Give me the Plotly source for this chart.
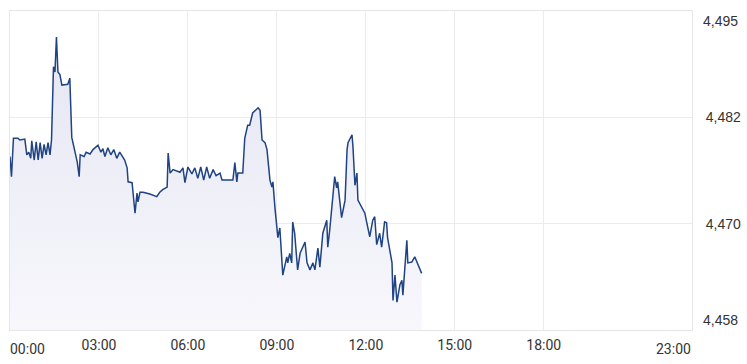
import plotly.graph_objects as go

times = ["00:00","00:03","00:07","00:16","00:20","00:30","00:34","00:38","00:42","00:44",
         "00:49","00:53","00:57","01:01","01:05","01:09","01:13","01:17","01:21","01:24",
         "01:28","01:31","01:34","01:37","01:41","01:45","01:57","02:01","02:05","02:09",
         "02:16","02:20","02:22","02:30","02:34","02:42","02:48","02:58","03:04","03:08",
         "03:12","03:18","03:24","03:30","03:36","03:42","03:52","03:57","03:59","04:07",
         "04:09","04:13","04:17","04:19","04:23","04:29","04:43","04:57","05:03","05:09",
         "05:18","05:20","05:24","05:30","05:44","05:50","05:54","06:00","06:08","06:14",
         "06:20","06:26","06:32","06:38","06:44","06:51","06:57","07:05","07:09","07:31",
         "07:35","07:39","07:41","07:51","07:55","08:01","08:05","08:11","08:22","08:26",
         "08:30","08:36","08:40","08:46","08:50","08:52","08:56","09:00","09:02","09:06",
         "09:10","09:12","09:20","09:22","09:26","09:30","09:32","09:36","09:42","09:47",
         "09:57","10:01","10:07","10:13","10:17","10:23","10:27","10:33","10:41","10:43",
         "10:47","10:53","10:57","11:01","11:03","11:11","11:18","11:22","11:24","11:32",
         "11:34","11:38","11:42","11:44","11:52","11:58","12:02","12:08","12:14","12:18",
         "12:22","12:28","12:32","12:38","12:42","12:44","12:53","12:55","12:59","13:03",
         "13:09","13:13","13:15","13:23","13:25","13:33","13:39","13:45","13:49","13:53"]

prices = [4477.9,4475.6,4480.0,4480.0,4479.8,4479.9,4478.1,4478.4,4477.7,4479.7,
          4477.5,4479.6,4477.5,4479.5,4477.7,4479.3,4478.1,4479.5,4478.1,4479.8,
          4488.2,4487.6,4491.6,4487.6,4487.3,4486.1,4486.2,4486.9,4480.1,4479.0,
          4477.3,4475.6,4478.1,4477.9,4478.4,4478.2,4478.7,4479.2,4478.4,4478.8,
          4477.9,4478.9,4478.1,4478.7,4477.7,4478.4,4477.5,4476.6,4475.0,4474.9,
          4473.8,4471.4,4473.7,4472.7,4473.8,4473.8,4473.6,4473.3,4473.8,4474.1,
          4474.4,4478.3,4476.0,4476.4,4476.1,4476.6,4474.9,4476.7,4475.9,4476.6,
          4475.4,4476.7,4475.2,4476.7,4475.4,4476.4,4475.7,4476.0,4475.2,4475.2,
          4477.2,4475.0,4476.0,4476.0,4480.0,4481.5,4481.5,4482.9,4483.5,4483.2,
          4479.8,4479.5,4478.7,4475.2,4474.4,4475.0,4472.1,4469.8,4468.6,4469.7,
          4466.4,4464.3,4466.4,4465.7,4466.8,4465.7,4470.4,4469.1,4464.9,4466.8,
          4468.1,4465.7,4464.9,4465.7,4464.9,4467.4,4465.2,4469.1,4470.6,4467.5,
          4469.5,4473.7,4475.6,4474.3,4475.0,4470.9,4472.9,4478.7,4479.5,4480.4,
          4479.0,4474.6,4476.0,4472.9,4472.1,4471.4,4470.3,4468.7,4470.6,4471.0,
          4467.8,4469.1,4467.5,4470.4,4470.3,4468.6,4465.7,4461.4,4464.3,4461.2,
          4463.2,4463.7,4462.0,4468.3,4465.7,4465.8,4466.4,4465.5,4464.9,4464.5]

x_tick_hours = [3, 6, 9, 12, 15, 18]
x_tick_labels = ["03:00", "06:00", "09:00", "12:00", "15:00", "18:00"]
x_start_label = "00:00"
x_end_label = "23:00"
y_min, y_max = 4458.0, 4494.6
y_tick_vals = [4458.0, 4470.2, 4482.4, 4494.6]
y_tick_labels = ["4,458", "4,470", "4,482", "4,495"]

day = "2024-01-01 "
xs = [day + t for t in times]
x0 = day + "00:00"
x1 = day + "23:00"
grid_x = [day + "%02d:00" % h for h in x_tick_hours]

fig = go.Figure()
fig.add_trace(go.Scatter(
    x=xs, y=prices, mode="lines",
    line=dict(color="#1f4383", width=1.5),
    fill="tozeroy",
    fillgradient=dict(type="vertical", start=y_min, stop=4492,
                      colorscale=[[0, "rgba(247,247,252,1)"], [1, "rgba(230,230,243,1)"]]),
    hoverinfo="skip",
))

fig.update_layout(
    width=747, height=364,
    margin=dict(l=10, r=55, t=11, b=34, autoexpand=False),
    paper_bgcolor="white", plot_bgcolor="white",
    showlegend=False,
    xaxis=dict(type="date", range=[x0, x1],
               tickvals=grid_x, ticktext=x_tick_labels,
               showgrid=True, gridcolor="#ececec", gridwidth=1,
               showline=True, linecolor="#e6e6e6", linewidth=1, mirror=True,
               ticks="", zeroline=False, ticklabelstandoff=2,
               tickfont=dict(family="Roboto", size=14, color="#333333")),
    yaxis=dict(range=[y_min, y_max], side="right",
               tickvals=y_tick_vals[1:3], ticktext=y_tick_labels[1:3],
               showgrid=True, gridcolor="#ececec", gridwidth=1,
               showline=True, linecolor="#e6e6e6", linewidth=1, mirror=True,
               ticks="", zeroline=False, ticklabelstandoff=10,
               tickfont=dict(family="Liberation Sans", size=14, color="#333333")),
)

fig.add_annotation(x=x0, y=0, xref="x", yref="paper", text=x_start_label,
                   xanchor="left", yanchor="top", xshift=-2, yshift=-9, showarrow=False,
                   font=dict(family="Roboto", size=14, color="#333333"))
fig.add_annotation(x=x1, y=0, xref="x", yref="paper", text=x_end_label,
                   xanchor="right", yanchor="top", xshift=1, yshift=-9, showarrow=False,
                   font=dict(family="Roboto", size=14, color="#333333"))
fig.add_annotation(x=1, y=y_max, xref="paper", yref="y", text=y_tick_labels[3],
                   xanchor="left", yanchor="top", xshift=9, showarrow=False,
                   font=dict(family="Liberation Sans", size=14, color="#333333"))
fig.add_annotation(x=1, y=y_min, xref="paper", yref="y", text=y_tick_labels[0],
                   xanchor="left", yanchor="bottom", xshift=9, showarrow=False,
                   font=dict(family="Liberation Sans", size=14, color="#333333"))

fig.write_html("out.html")
